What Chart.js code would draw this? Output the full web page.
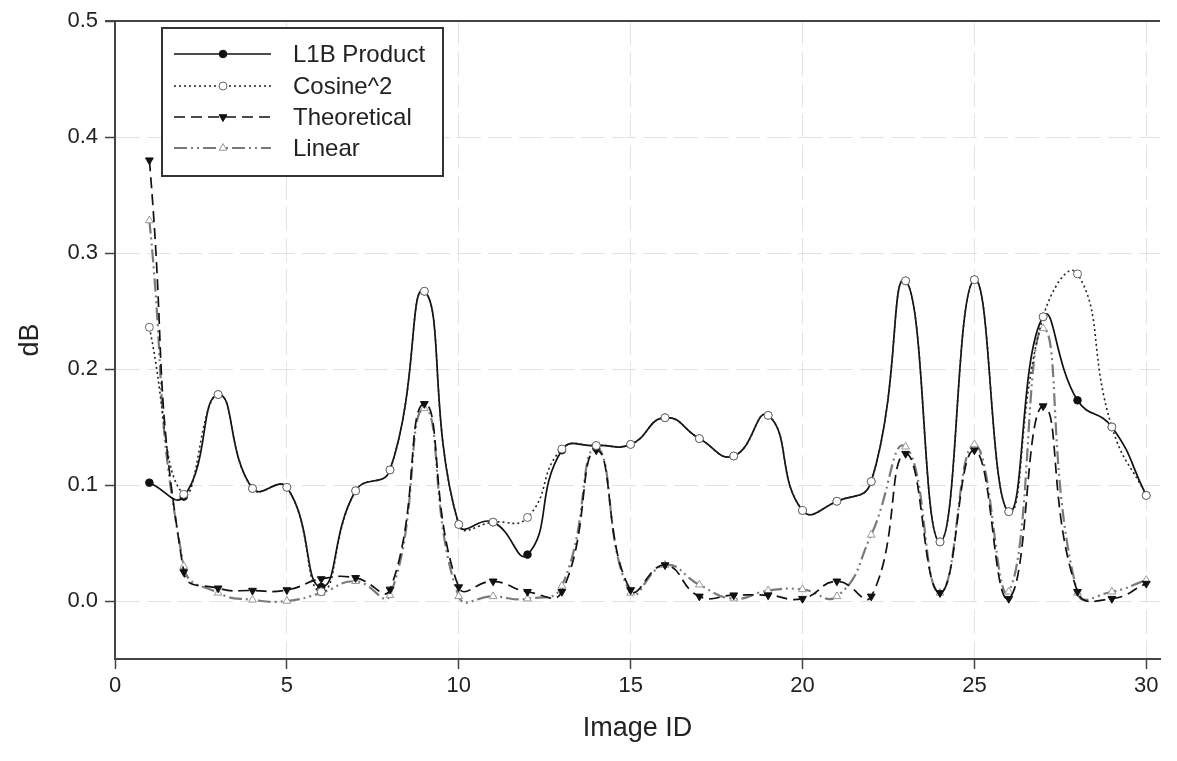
<!DOCTYPE html>
<html><head><meta charset="utf-8">
<script src="https://cdn.jsdelivr.net/npm/chart.js@4.4.1/dist/chart.umd.min.js"></script>
<style>html,body{margin:0;padding:0;background:#fff;}#wrap{width:1177px;height:761px;}</style>
</head><body><div id="wrap"><canvas id="c" width="1177" height="761"></canvas></div>
<script>
const imageIds = [1,2,3,4,5,6,7,8,9,10,11,12,13,14,15,16,17,18,19,20,21,22,23,24,25,26,27,28,29,30];
const l1bProduct  = [0.102,0.090,0.178,0.097,0.098,0.012,0.095,0.113,0.267,0.066,0.068,0.040,0.130,0.134,0.135,0.158,0.140,0.125,0.160,0.078,0.086,0.103,0.276,0.051,0.277,0.077,0.245,0.173,0.150,0.091];
const cosine2     = [0.236,0.092,0.178,0.097,0.098,0.008,0.095,0.113,0.267,0.066,0.068,0.072,0.131,0.134,0.135,0.158,0.140,0.125,0.160,0.078,0.086,0.103,0.276,0.051,0.277,0.077,0.245,0.282,0.150,0.091];
const theoretical = [0.380,0.025,0.011,0.009,0.0095,0.019,0.020,0.010,0.170,0.012,0.017,0.008,0.008,0.130,0.0095,0.031,0.004,0.005,0.005,0.002,0.017,0.004,0.127,0.007,0.130,0.002,0.168,0.008,0.002,0.015];
const linear      = [0.328,0.030,0.007,0.001,0.000,0.007,0.017,0.005,0.166,0.004,0.004,0.002,0.013,0.132,0.007,0.031,0.014,0.002,0.009,0.010,0.004,0.057,0.133,0.007,0.135,0.008,0.235,0.007,0.008,0.018];
const seriesNames = ['L1B Product','Cosine^2','Theoretical','Linear'];
const xTicks = [0,5,10,15,20,25,30];
const yTicks = [0.0,0.1,0.2,0.3,0.4,0.5];

const FONT = '"Liberation Sans", Arial, sans-serif';
const pts = arr => arr.map((v,i) => ({x: imageIds[i], y: v}));

const datasets = [
  {label: seriesNames[0], data: pts(l1bProduct), borderColor:'#111', borderWidth:1.7, borderDash:[],
   pointStyle:'circle', pointRadius:3.8, pointBackgroundColor:'#111', pointBorderColor:'#111', pointBorderWidth:1, pointRotation:0, order:2},
  {label: seriesNames[1], data: pts(cosine2), borderColor:'#222', borderWidth:1.6, borderDash:[2,3],
   pointStyle:'circle', pointRadius:4, pointBackgroundColor:'#fff', pointBorderColor:'#666', pointBorderWidth:1, pointRotation:0, order:1},
  {label: seriesNames[2], data: pts(theoretical), borderColor:'#111', borderWidth:1.7, borderDash:[11,6],
   pointStyle:'triangle', pointRadius:4.5, pointBackgroundColor:'#111', pointBorderColor:'#111', pointBorderWidth:1, pointRotation:180, order:3},
  {label: seriesNames[3], data: pts(linear), borderColor:'#7a7a7a', borderWidth:2.2, borderDash:[13,4,2,4,2,4],
   pointStyle:'triangle', pointRadius:4.5, pointBackgroundColor:'#fff', pointBorderColor:'#999', pointBorderWidth:1, pointRotation:0, order:4}
];
datasets.forEach(d => { d.tension = 0.5; d.fill = false; d.showLine = true; });

function drawMarker(ctx, ds, x, y) {
  ctx.save();
  ctx.fillStyle = ds.pointBackgroundColor;
  ctx.strokeStyle = ds.pointBorderColor;
  ctx.lineWidth = ds.pointBorderWidth;
  ctx.setLineDash([]);
  const r = ds.pointRadius;
  ctx.beginPath();
  if (ds.pointStyle === 'circle') {
    ctx.arc(x, y, r, 0, Math.PI*2);
  } else {
    const rot = (ds.pointRotation || 0) * Math.PI/180;
    for (let k=0;k<3;k++){
      const a = rot + k*2*Math.PI/3 - Math.PI/2;
      const px = x + Math.cos(a)*r, py = y + Math.sin(a)*r;
      if (k===0) ctx.moveTo(px,py); else ctx.lineTo(px,py);
    }
    ctx.closePath();
  }
  ctx.fill(); ctx.stroke();
  ctx.restore();
}

const boxLegend = {
  id: 'boxLegend',
  afterDraw(chart) {
    const ctx = chart.ctx, ca = chart.chartArea;
    ctx.save();
    ctx.strokeStyle = '#444'; ctx.lineWidth = 2; ctx.setLineDash([]);
    ctx.beginPath(); ctx.moveTo(ca.left - 10, ca.top); ctx.lineTo(ca.right, ca.top); ctx.stroke();
    const bx = ca.left + 47, by = ca.top + 7, bw = 281, bh = 148;
    ctx.fillStyle = '#fff'; ctx.fillRect(bx, by, bw, bh);
    ctx.strokeStyle = '#333'; ctx.lineWidth = 2; ctx.strokeRect(bx, by, bw, bh);
    const rowY = [26, 58, 89, 120];
    chart.data.datasets.forEach((ds, i) => {
      const y = by + rowY[i];
      ctx.save();
      ctx.strokeStyle = ds.borderColor; ctx.lineWidth = ds.borderWidth;
      ctx.setLineDash(ds.borderDash || []);
      ctx.beginPath(); ctx.moveTo(bx + 12, y); ctx.lineTo(bx + 109, y); ctx.stroke();
      ctx.restore();
      drawMarker(ctx, ds, bx + 61, y);
      ctx.fillStyle = '#222'; ctx.font = '24px ' + FONT; ctx.textBaseline = 'middle'; ctx.textAlign = 'left';
      ctx.fillText(ds.label, bx + 131, y + 1);
    });
    ctx.restore();
  }
};

new Chart(document.getElementById('c'), {
  type: 'line',
  data: { datasets },
  options: {
    responsive: false, animation: false, devicePixelRatio: 1,
    layout: { padding: { left: 0, top: 21, right: 17, bottom: 0 } },
    plugins: { legend: { display: false }, tooltip: { enabled: false } },
    scales: {
      x: {
        type: 'linear', min: 0, max: 30.4,
        afterFit: s => { s.height = 102; },
        afterBuildTicks: s => { s.ticks = xTicks.map(v => ({value: v})); },
        ticks: { color: '#222', font: { family: FONT, size: 22 }, padding: 4, maxRotation: 0, callback: v => String(v) },
        grid: { color: '#e3e3e3', lineWidth: 1, tickLength: 10, tickColor: '#444', tickWidth: 1.5, tickBorderDash: [] },
        border: { display: true, color: '#444', width: 2, dash: [24, 7] },
        title: { display: true, text: 'Image ID', color: '#222', font: { family: FONT, size: 27 }, padding: { top: 16, bottom: 16 } }
      },
      y: {
        type: 'linear', min: -0.05, max: 0.5,
        afterFit: s => { s.width = 115; },
        afterBuildTicks: s => { s.ticks = yTicks.map(v => ({value: v})); },
        ticks: { color: '#222', font: { family: FONT, size: 22 }, padding: 7, callback: v => Number(v).toFixed(1) },
        grid: { color: '#e3e3e3', lineWidth: 1, tickLength: 10, tickColor: '#444', tickWidth: 1.5, tickBorderDash: [] },
        border: { display: true, color: '#444', width: 2, dash: [24, 7] },
        title: { display: true, text: 'dB', color: '#222', font: { family: FONT, size: 27 }, padding: { top: 14, bottom: 14 } }
      }
    }
  },
  plugins: [boxLegend]
});
</script></body></html>
